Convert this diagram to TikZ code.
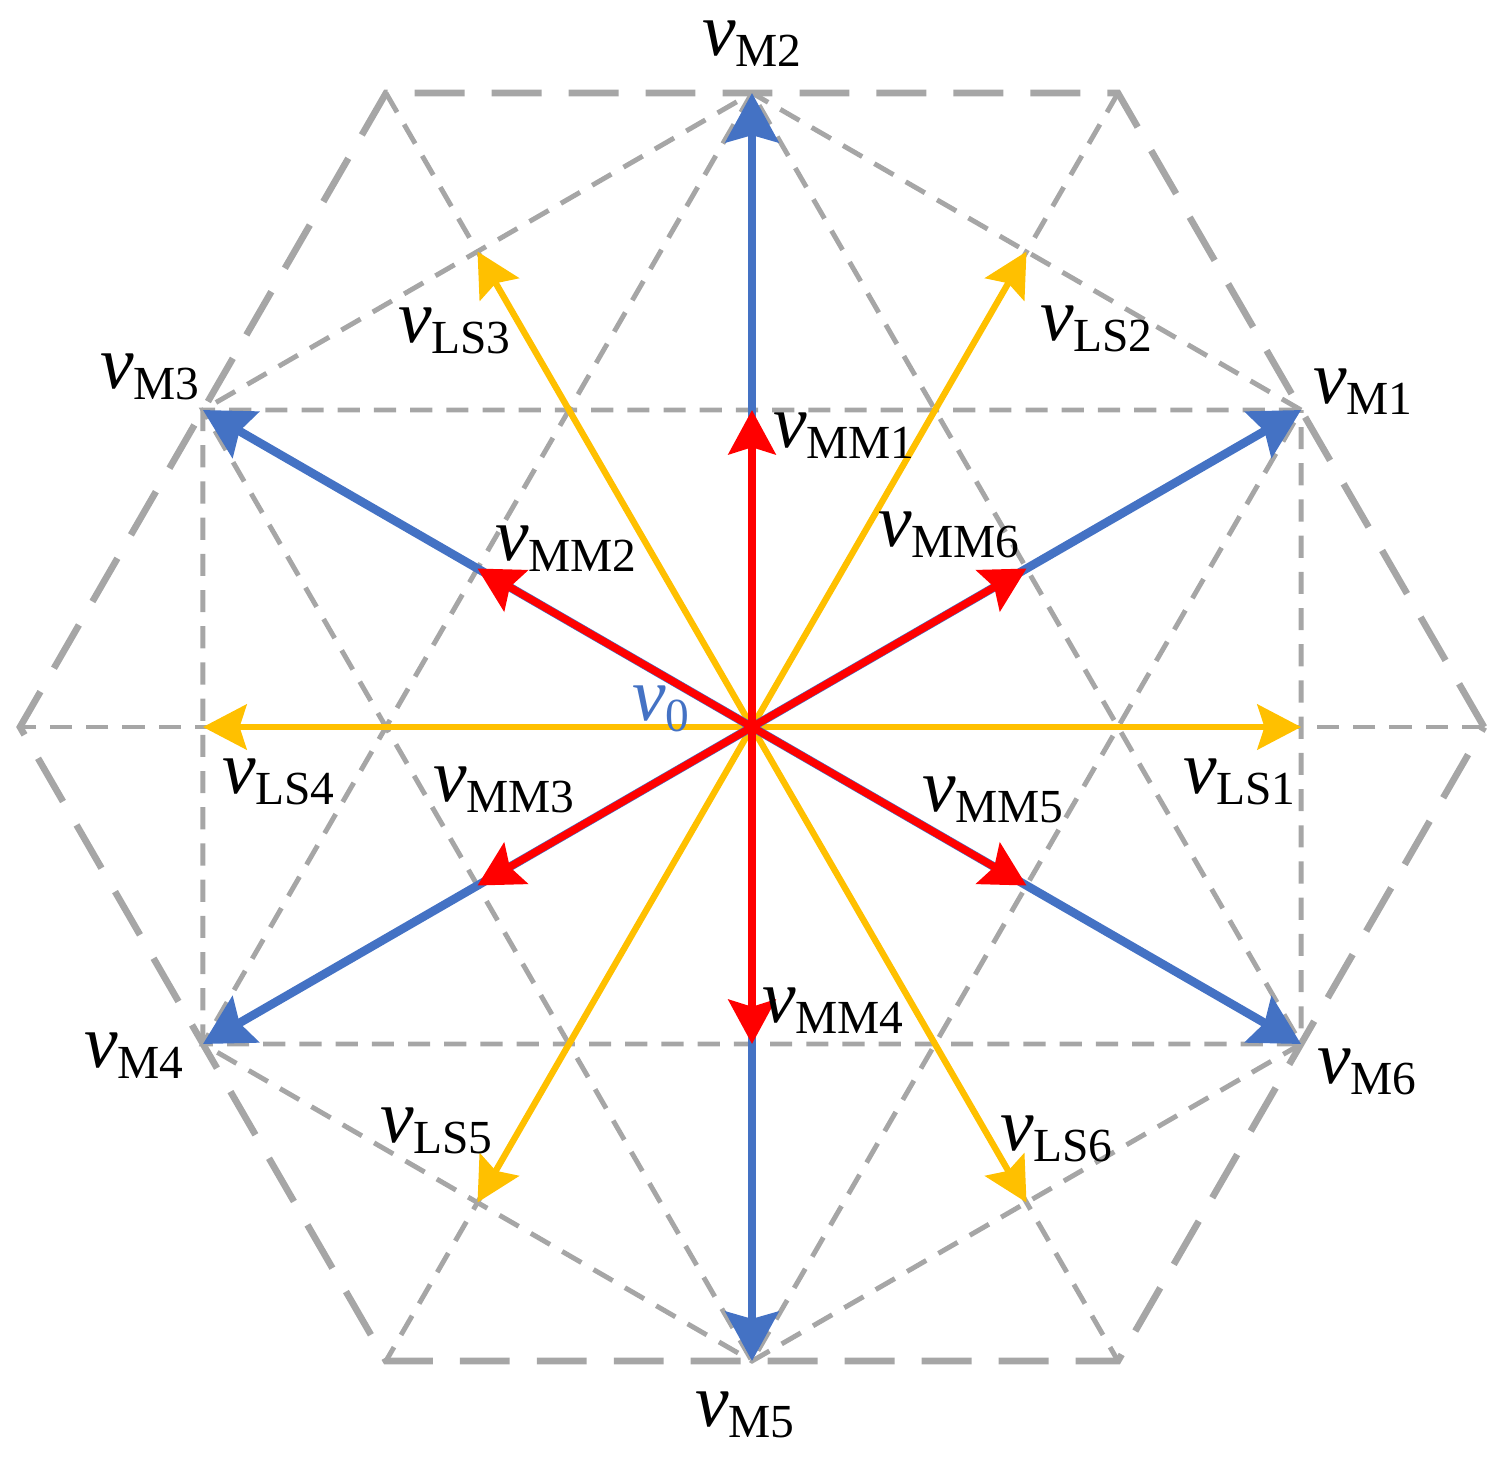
\documentclass[tikz,border=0pt]{standalone}
\usepackage{fontspec}
\setmainfont{Liberation Serif}
\usetikzlibrary{arrows.meta}
\definecolor{vblue}{HTML}{4472C4}
\definecolor{vred}{HTML}{FF0000}
\definecolor{vyel}{HTML}{FFC000}
\definecolor{vgray}{HTML}{A6A6A6}
\newcommand{\vlab}[1]{{\fontsize{21.5}{21.5}\selectfont\itshape v}\raisebox{-3.4pt}{\fontsize{13.5}{13.5}\selectfont #1}}
\begin{document}
\begin{tikzpicture}[
  heavydash/.style={draw=vgray, line width=1.9pt, dash pattern=on 14.2pt off 7.7pt},
  finedash/.style={draw=vgray, line width=1.4pt, dash pattern=on 6.3pt off 4pt},
  bluevec/.style={draw=vblue, line width=2.45pt, -{Stealth[length=14pt,width=15pt,inset=2pt]}},
  redvec/.style={draw=vred, line width=2.1pt, -{Stealth[length=12.6pt,width=13.4pt,inset=2pt]}},
  yelvec/.style={draw=vyel, line width=1.8pt, -{Stealth[length=12.4pt,width=12.8pt,inset=2pt]}},
  lab/.style={inner sep=0pt, outer sep=0pt, anchor=base west, text height=11pt, text depth=7pt}
]
\useasboundingbox (0,0) rectangle (15.02,-14.60);
\begin{scope}[shift={(7.52,-7.27)}]
  \coordinate (O) at (0,0);
  \foreach \i/\a in {0/0,1/60,2/120,3/180,4/240,5/300}{
    \coordinate (H\i) at (\a:7.32);
  }
  \foreach \i/\a in {1/30,2/90,3/150,4/210,5/270,6/330}{
    \coordinate (M\i) at (\a:6.34);
  }
  \foreach \i/\a in {1/0,2/60,3/120,4/180,5/240,6/300}{
    \coordinate (L\i) at (\a:5.49);
  }
  \foreach \i/\a in {1/90,2/150,3/210,4/270,5/330,6/30}{
    \coordinate (N\i) at (\a:3.17);
  }
\end{scope}
% grid
\draw[finedash] (H0) -- (H3);
\draw[finedash] (H1) -- (H4);
\draw[finedash] (H2) -- (H5);
\draw[finedash] (M1) -- (M2) -- (M3) -- (M4) -- (M5) -- (M6) -- cycle;
\draw[finedash] (M1) -- (M3) -- (M5) -- cycle;
\draw[finedash] (M2) -- (M4) -- (M6) -- cycle;
\draw[heavydash] (H0) -- (H1) -- (H2) -- (H3) -- (H4) -- (H5) -- cycle;
% vectors
\foreach \i in {1,...,6}{ \draw[yelvec] (O) -- (L\i); }
\foreach \i in {1,...,6}{ \draw[bluevec] (O) -- (M\i); }
\foreach \i in {1,...,6}{ \draw[redvec] (O) -- (N\i); }
% labels
\node[lab] (tM1) at (13.13,-4.03) {\vlab{M1}};
\node[lab] (tM2) at (7.02,-0.55) {\vlab{M2}};
\node[lab] (tM3) at (1.00,-3.88) {\vlab{M3}};
\node[lab] (tM4) at (0.84,-10.67) {\vlab{M4}};
\node[lab] (tM5) at (6.95,-14.26) {\vlab{M5}};
\node[lab] (tM6) at (13.17,-10.83) {\vlab{M6}};
\node[lab] (tMM1) at (7.73,-4.47) {\vlab{MM1}};
\node[lab] (tMM2) at (4.95,-5.60) {\vlab{MM2}};
\node[lab] (tMM3) at (4.33,-8.01) {\vlab{MM3}};
\node[lab] (tMM4) at (7.62,-10.22) {\vlab{MM4}};
\node[lab] (tMM5) at (9.22,-8.11) {\vlab{MM5}};
\node[lab] (tMM6) at (8.78,-5.46) {\vlab{MM6}};
\node[lab] (tLS1) at (11.83,-7.93) {\vlab{LS1}};
\node[lab] (tLS2) at (10.40,-3.40) {\vlab{LS2}};
\node[lab] (tLS3) at (3.98,-3.42) {\vlab{LS3}};
\node[lab] (tLS4) at (2.22,-7.93) {\vlab{LS4}};
\node[lab] (tLS5) at (3.80,-11.42) {\vlab{LS5}};
\node[lab] (tLS6) at (10.00,-11.50) {\vlab{LS6}};
\node[lab, text=vblue] (tv0) at (6.32,-7.20) {\vlab{0}};
\end{tikzpicture}
\end{document}
